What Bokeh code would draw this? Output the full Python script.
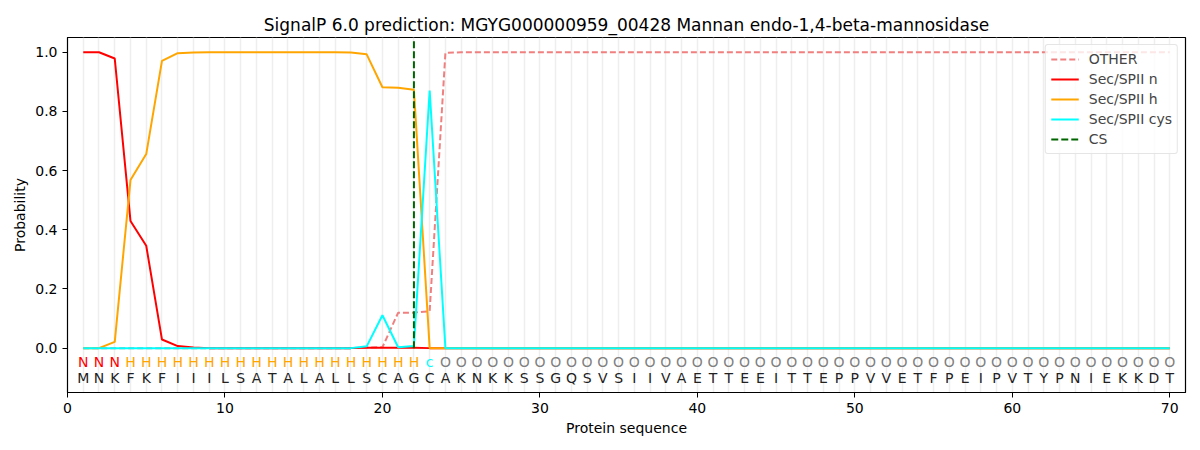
from bokeh.plotting import figure
from bokeh.embed import file_html
from bokeh.resources import INLINE
from bokeh.models import ColumnDataSource, Legend, LegendItem, FixedTicker, CustomJSTickFormatter
from bokeh.core.properties import value

sequence = list("MNKFKFIIILSATALALLSCAGCAKNKKSSGQSVSIIVAETTEEITTEPPVVETFPEIPVTYPNIEKKDT")
labels = list("NNN" + "H" * 19 + "c" + "O" * 47)
positions = list(range(1, len(sequence) + 1))

other = [0.0] * 18 + [0.002, 0.003, 0.12, 0.12, 0.125, 0.998] + [1.0] * 46
sec_n = [1.0, 1.0, 0.979, 0.43, 0.346, 0.029, 0.007, 0.002] + [0.0] * 10 + [0.001, 0.001, 0.001, 0.001] + [0.0] * 48
sec_h = [0.0, 0.0, 0.021, 0.568, 0.656, 0.971, 0.997, 0.999] + [1.0] * 9 + [0.9995, 0.993, 0.882, 0.880, 0.873, 0.0] + [0.0] * 47
sec_cys = [0.0] * 18 + [0.006, 0.111, 0.003, 0.007, 0.871] + [0.0] * 47
cs_x = [22, 22]
cs_y = [0.0, 1.04]

label_colors = {"N": "red", "H": "orange", "c": "cyan", "O": "gray"}

FONT = "DejaVu Sans"

p = figure(width=1192, height=442, output_backend="svg", toolbar_location=None,
           x_range=(0, 71), y_range=(-0.15, 1.05),
           title="SignalP 6.0 prediction: MGYG000000959_00428 Mannan endo-1,4-beta-mannosidase",
           min_border_left=67, min_border_right=7, min_border_top=37, min_border_bottom=50)
p.title.align = "center"
p.title.text_font = FONT
p.title.text_font_size = "17px"
p.title.text_font_style = "normal"
p.title.text_color = "black"
p.title.offset = 0
p.title.standoff = 5

p.xgrid.visible = False
p.ygrid.visible = False
p.outline_line_color = "black"
p.outline_line_width = 1.2

for ax in (p.xaxis[0], p.yaxis[0]):
    ax.major_tick_out = 5
    ax.major_tick_in = 0
    ax.minor_tick_line_color = None
    ax.axis_line_color = "black"
    ax.major_tick_line_color = "black"
    ax.major_label_text_font = FONT
    ax.major_label_text_font_size = "14px"
    ax.major_label_text_color = "black"
    ax.axis_label_text_font = FONT
    ax.axis_label_text_font_size = "14px"
    ax.axis_label_text_font_style = "normal"
    ax.axis_label_text_color = "black"

p.xaxis.ticker = FixedTicker(ticks=[0, 10, 20, 30, 40, 50, 60, 70])
p.yaxis.ticker = FixedTicker(ticks=[0.0, 0.2, 0.4, 0.6, 0.8, 1.0])
p.xaxis.axis_label = "Protein sequence"
p.yaxis.axis_label = "Probability"
p.yaxis.formatter = CustomJSTickFormatter(code="return tick.toFixed(1);")
p.xaxis.axis_label_standoff = 4
p.yaxis.axis_label_standoff = 4

# light vertical guides at each residue
p.vspan(x=positions, line_color="#eeeeee", line_width=1.5)

src = ColumnDataSource(dict(
    x=positions, seq=sequence, lab=labels,
    labcol=[label_colors[l] for l in labels],
    ylab=[-0.047] * len(positions), yseq=[-0.1] * len(positions),
))
p.text(x="x", y="ylab", text="lab", text_color="labcol", source=src,
       text_align="center", text_baseline="middle",
       text_font=value(FONT), text_font_size="14px")
p.text(x="x", y="yseq", text="seq", text_color="#222222", source=src,
       text_align="center", text_baseline="middle",
       text_font=value(FONT), text_font_size="14px")

r_other = p.line(positions, other, line_color="lightcoral", line_width=2, line_dash="6 3")
r_n = p.line(positions, sec_n, line_color="red", line_width=2)
r_h = p.line(positions, sec_h, line_color="orange", line_width=2)
r_c = p.line(positions, sec_cys, line_color="cyan", line_width=2)
r_cs = p.line(cs_x, cs_y, line_color="darkgreen", line_width=2, line_dash="7 3")

legend = Legend(items=[
    LegendItem(label="OTHER", renderers=[r_other]),
    LegendItem(label="Sec/SPII n", renderers=[r_n]),
    LegendItem(label="Sec/SPII h", renderers=[r_h]),
    LegendItem(label="Sec/SPII cys", renderers=[r_c]),
    LegendItem(label="CS", renderers=[r_cs]),
], location="top_right")
legend.label_text_font = FONT
legend.label_text_font_size = "14px"
legend.border_line_color = "#cccccc"
legend.border_radius = 3
legend.background_fill_alpha = 0.8
legend.margin = 7
legend.padding = 5
legend.spacing = 2
legend.glyph_width = 28
legend.label_height = 18
legend.glyph_height = 18
legend.label_standoff = 10
p.add_layout(legend)

open("out.html", "w").write(file_html(p, INLINE))
